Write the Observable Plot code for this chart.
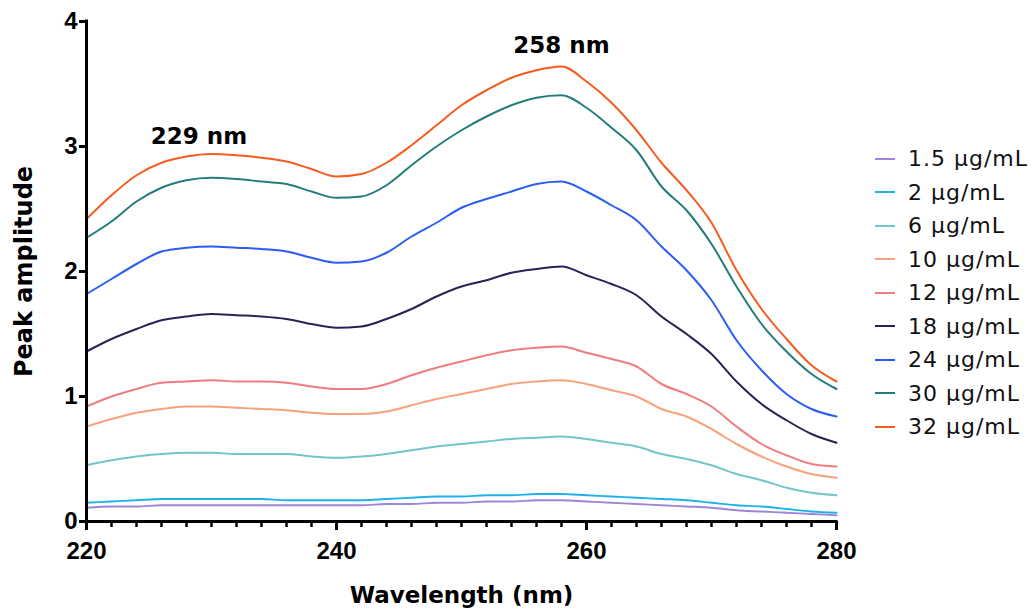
<!DOCTYPE html>
<html><head><meta charset="utf-8">
<script src="https://cdn.jsdelivr.net/npm/d3@7"></script>
<script src="https://cdn.jsdelivr.net/npm/@observablehq/plot@0.6"></script>
<style>
body{margin:0;background:#fff;}
#wrap{position:relative;width:1035px;height:609px;}
#legend{position:absolute;left:875px;top:142px;font-family:"DejaVu Sans",sans-serif;font-size:22px;letter-spacing:1px;color:#111;}
.row{height:33.5px;display:flex;align-items:center;white-space:nowrap;}
.sw{width:20px;height:2px;margin-right:13px;flex:none;}
</style></head><body><div id="wrap"><div id="legend"></div></div>
<script>
const wavelengths = [220,222,224,226,228,230,232,234,236,238,240,242,244,246,248,250,252,254,256,258,260,262,264,266,268,270,272,274,276,278,280];
const seriesNames = ["1.5 μg/mL","2 μg/mL","6 μg/mL","10 μg/mL","12 μg/mL","18 μg/mL","24 μg/mL","30 μg/mL","32 μg/mL"];
const seriesColors = ["#9d86d8","#1fb2ea","#72c6c9","#f7a27a","#f07c82","#2c2156","#2b5ef0","#237d7b","#f65b20"];

const c1_5 = [0.11,0.12,0.12,0.13,0.13,0.13,0.13,0.13,0.13,0.13,0.13,0.13,0.14,0.14,0.15,0.15,0.16,0.16,0.17,0.17,0.16,0.15,0.14,0.13,0.12,0.11,0.09,0.08,0.07,0.06,0.05];
const c2   = [0.15,0.16,0.17,0.18,0.18,0.18,0.18,0.18,0.17,0.17,0.17,0.17,0.18,0.19,0.20,0.20,0.21,0.21,0.22,0.22,0.21,0.20,0.19,0.18,0.17,0.15,0.13,0.12,0.10,0.08,0.07];
const c6   = [0.45,0.49,0.52,0.54,0.55,0.55,0.54,0.54,0.54,0.52,0.51,0.52,0.54,0.57,0.60,0.62,0.64,0.66,0.67,0.68,0.66,0.63,0.60,0.54,0.50,0.45,0.38,0.33,0.27,0.23,0.21];
const c10  = [0.76,0.82,0.87,0.90,0.92,0.92,0.91,0.90,0.89,0.87,0.86,0.86,0.88,0.93,0.98,1.02,1.06,1.10,1.12,1.13,1.10,1.05,1.00,0.90,0.84,0.74,0.62,0.52,0.44,0.38,0.35];
const c12  = [0.92,1.00,1.06,1.11,1.12,1.13,1.12,1.12,1.11,1.08,1.06,1.06,1.10,1.17,1.23,1.28,1.33,1.37,1.39,1.40,1.35,1.30,1.24,1.10,1.02,0.92,0.76,0.62,0.53,0.46,0.44];
const c18  = [1.36,1.46,1.54,1.61,1.64,1.66,1.65,1.64,1.62,1.58,1.55,1.56,1.62,1.70,1.80,1.88,1.93,1.99,2.02,2.04,1.97,1.90,1.81,1.64,1.50,1.34,1.12,0.94,0.81,0.70,0.63];
const c24  = [1.82,1.94,2.06,2.16,2.19,2.20,2.19,2.18,2.16,2.11,2.07,2.08,2.15,2.28,2.39,2.51,2.58,2.64,2.70,2.72,2.64,2.53,2.41,2.20,2.01,1.77,1.45,1.21,1.02,0.90,0.84];
const c30  = [2.27,2.40,2.56,2.67,2.73,2.75,2.74,2.72,2.70,2.64,2.59,2.60,2.69,2.85,3.00,3.13,3.24,3.33,3.39,3.41,3.31,3.15,2.97,2.68,2.49,2.22,1.88,1.58,1.36,1.18,1.06];
const c32  = [2.42,2.61,2.77,2.87,2.92,2.94,2.93,2.91,2.88,2.82,2.76,2.78,2.87,3.01,3.17,3.33,3.45,3.55,3.61,3.64,3.52,3.35,3.13,2.87,2.65,2.39,2.01,1.70,1.46,1.25,1.12];

const xMajorTicks = [220,240,260,280];
const xMinorTicks = [222,224,226,228,230,232,234,236,238,242,244,246,248,250,252,254,256,258,262,264,266,268,270,272,274,276,278];
const yTicks = [0,1,2,3,4];
const annText = ["229 nm","258 nm"];
const annX = [229,258];
const annY = [3.02,3.75];
const xLabel = "Wavelength (nm)";
const yLabel = "Peak amplitude";

const allSeries = [c1_5,c2,c6,c10,c12,c18,c24,c30,c32];
const rows = [];
allSeries.forEach((vals, si) => {
  vals.forEach((v, i) => rows.push({conc: seriesNames[si], wl: wavelengths[i], v}));
});

const W = 1035, H = 609, mL = 86, mR = 199, mT = 21, mB = 88;
const frameW = W - mL - mR, frameH = H - mT - mB;

const chart = Plot.plot({
  width: W, height: H,
  marginLeft: mL, marginRight: mR, marginTop: mT, marginBottom: mB,
  x: {domain: [220, 280]},
  y: {domain: [0, 4]},
  color: {domain: seriesNames, range: seriesColors},
  style: {fontFamily: "'Liberation Sans', Arial, sans-serif", color: "#000", background: "#fff"},
  marks: [
    Plot.line(rows, {x: "wl", y: "v", z: "conc", stroke: "conc", strokeWidth: 2, curve: "monotone-x"}),
    Plot.axisX({ticks: xMajorTicks, tickSize: 0, tickPadding: 20, fontSize: 24, fontWeight: "bold", tickFormat: d => String(d), label: null}),
    Plot.axisY({ticks: yTicks, tickSize: 0, tickPadding: 9, fontSize: 24, fontWeight: "bold", tickFormat: d => String(d), label: null}),
    Plot.ruleX(xMinorTicks, {x: d => d, insetTop: frameH, insetBottom: -6, stroke: "#000", strokeWidth: 2.5}),
    Plot.ruleX(xMajorTicks, {x: d => d, insetTop: frameH, insetBottom: -9, stroke: "#000", strokeWidth: 3}),
    Plot.ruleY(yTicks, {y: d => d, insetLeft: -7, insetRight: frameW, stroke: "#000", strokeWidth: 3}),
    Plot.ruleY([0], {strokeWidth: 3, strokeLinecap: "square"}),
    Plot.ruleX([220], {strokeWidth: 3, strokeLinecap: "square"}),
    Plot.text(annText, {x: annX, y: annY, text: d => d, lineAnchor: "bottom", textAnchor: "middle",
      fontFamily: "DejaVu Sans", fontWeight: "bold", fontSize: 23, fill: "#000"}),
    Plot.text([xLabel], {frameAnchor: "bottom", dy: 65, lineAnchor: "top", textAnchor: "middle", text: d => d,
      fontFamily: "DejaVu Sans", fontWeight: "bold", fontSize: 23, fill: "#000"}),
    Plot.text([yLabel], {frameAnchor: "left", dx: -62, rotate: -90, lineAnchor: "middle", textAnchor: "middle", text: d => d,
      fontFamily: "DejaVu Sans", fontWeight: "bold", fontSize: 24, fill: "#000"})
  ]
});
document.getElementById("wrap").prepend(chart);

const legend = document.getElementById("legend");
seriesNames.forEach((name, i) => {
  const row = document.createElement("div");
  row.className = "row";
  const sw = document.createElement("span");
  sw.className = "sw";
  sw.style.background = seriesColors[i];
  const t = document.createElement("span");
  t.textContent = name;
  row.appendChild(sw); row.appendChild(t);
  legend.appendChild(row);
});
</script>
</body></html>
